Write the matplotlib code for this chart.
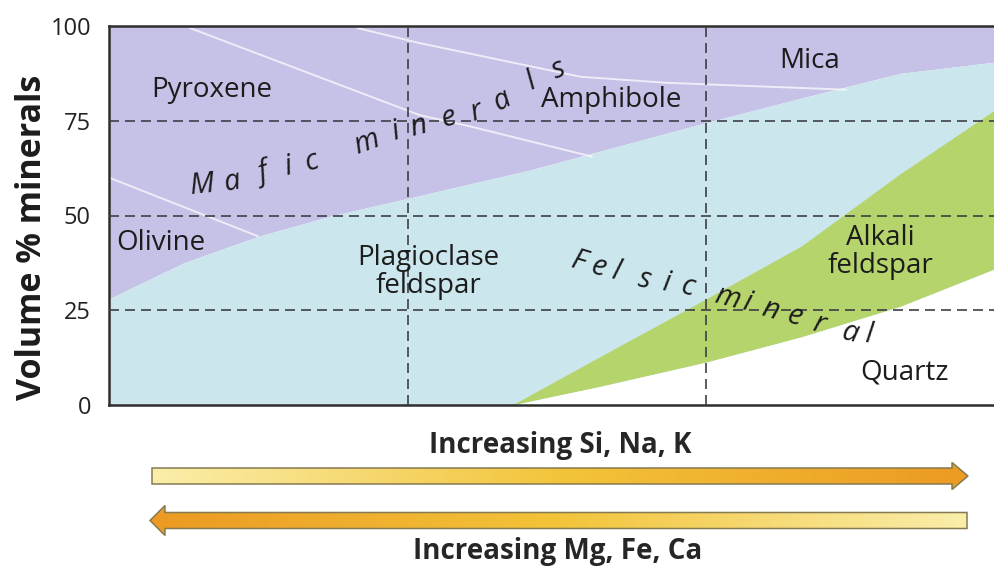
import numpy as np
import matplotlib
matplotlib.use("Agg")
import matplotlib.pyplot as plt
from matplotlib.patches import Polygon

# ---- data (x: position along the silica axis, 0..~3; y: volume %) ----
felsic_x = [0.0, 0.25, 0.5, 0.75, 1.0, 1.41, 2.0, 2.32, 2.65, 2.97]
felsic_top = [28, 37.5, 44.5, 50, 54.5, 62, 74.5, 81, 87.5, 90.5]   # mafic / felsic boundary

alkali_x = [1.35, 1.65, 2.0, 2.32, 2.65, 2.97]
alkali_top = [0, 13, 28, 42, 61, 78]                           # plagioclase / alkali feldspar
quartz_top = [0, 5, 11.3, 18, 26, 36]                          # alkali feldspar / quartz

olivine_x = [0.0, 0.50]
olivine_y = [60, 44.5]
pyroxene_x = [0.27, 1.04, 1.21, 1.62]
pyroxene_y = [99.5, 76.5, 73.5, 65.5]
mica_x = [0.83, 1.04, 1.58, 1.87, 2.20, 2.47]
mica_y = [99.5, 95.5, 86.6, 85, 84, 83.2]

y_ticks = [0, 25, 50, 75, 100]
y_label = "Volume % minerals"

mineral_labels = [
    ("Pyroxene", 212, 90),
    ("Amphibole", 611, 100),
    ("Mica", 810, 61),
    ("Olivine", 161, 243),
    ("Plagioclase\nfeldspar", 428, 272),
    ("Alkali\nfeldspar", 880, 252),
    ("Quartz", 905, 372),
]

mafic_text = "Maficminerals"
mafic_pos = [(202, 185), (232, 182), (263, 173), (288, 167), (312, 162),
             (367, 143), (395, 132), (419, 127), (449, 118), (476, 112),
             (502, 100), (531, 82), (559, 70)]
felsic_text = "Felsicmineral"
felsic_pos = [(579, 262), (599, 268), (616, 272), (645, 280), (666, 283),
              (688, 287), (727, 298), (747, 303), (770, 310), (795, 317),
              (819, 324), (850, 333), (869, 335)]

arrow_top_label = "Increasing Si, Na, K"
arrow_bottom_label = "Increasing Mg, Fe, Ca"

# ---- colours ----
C_MAFIC = "#c6c1e6"
C_FELSIC = "#cce6ee"
C_ALKALI = "#b6d46c"
C_QUARTZ = "#ffffff"
C_TEXT = "#1c1c1c"
C_GRID = "#3e3e48"

W, H = 995, 578
fig = plt.figure(figsize=(W / 100, H / 100), dpi=100)
fig.patch.set_facecolor("white")

plt.rcParams["font.family"] = ["Open Sans", "DejaVu Sans"]

# main plotting area in pixel terms
left_px, right_px, top_px, bottom_px = 109, 995, 26, 405
ax = fig.add_axes([left_px / W, 1 - bottom_px / H,
                   (right_px - left_px) / W, (bottom_px - top_px) / H])
ax.set_xlim(0, 2.968)
ax.set_ylim(0, 100)
ax.set_facecolor("white")

ax.fill_between(felsic_x, felsic_top, 100, color=C_MAFIC, lw=0, zorder=1)
ax.fill_between(felsic_x, 0, felsic_top, color=C_FELSIC, lw=0, zorder=1)
ax.fill_between(alkali_x, quartz_top, alkali_top, color=C_ALKALI, lw=0, zorder=1)
ax.fill_between(alkali_x, 0, quartz_top, color=C_QUARTZ, lw=0, zorder=1)

for xs, ys in [(olivine_x, olivine_y), (pyroxene_x, pyroxene_y), (mica_x, mica_y)]:
    ax.plot(xs, ys, color="white", lw=1.4, alpha=0.7, zorder=2,
            solid_capstyle="butt")

dash = (0, (6, 3.6))
for yv in [25, 50, 75]:
    ax.axhline(yv, color=C_GRID, lw=1.2, linestyle=dash, zorder=3)
for xv in [1, 2]:
    ax.axvline(xv, color=C_GRID, lw=1.2, linestyle=dash, zorder=3)

for side in ["left", "bottom", "top"]:
    ax.spines[side].set_color("#2e2e2e")
    ax.spines[side].set_linewidth(1.8)
ax.spines["right"].set_visible(False)

ax.set_xticks([])
ax.set_yticks(y_ticks)
ax.set_yticklabels([str(v) for v in y_ticks], fontsize=17, color="#222222")
ax.tick_params(axis="y", length=0, pad=13)
for lbl in ax.get_yticklabels():
    lbl.set_y(lbl.get_position()[1])

# overlay in figure pixel coordinates for labels and arrows
ov = fig.add_axes([0, 0, 1, 1], facecolor="none")
ov.set_xlim(0, W)
ov.set_ylim(H, 0)
ov.axis("off")

ov.text(32, 237, y_label, rotation=90, ha="center", va="center",
        fontsize=24.5, fontweight="bold", color=C_TEXT)

for txt, x, y in mineral_labels:
    ov.text(x, y, txt, ha="center", va="center", fontsize=20,
            color=C_TEXT, linespacing=1.0)


def letters_along(text, pos, size):
    pts = np.array(pos, dtype=float)
    n = len(pts)
    for i, ch in enumerate(text):
        a = pts[max(i - 1, 0)]
        b = pts[min(i + 1, n - 1)]
        ang = -np.degrees(np.arctan2(b[1] - a[1], b[0] - a[0]))
        ov.text(pts[i, 0], pts[i, 1], ch, ha="center", va="center",
                rotation=ang, rotation_mode="anchor", fontsize=size,
                style="italic", color=C_TEXT)


letters_along(mafic_text, mafic_pos, 21)
letters_along(felsic_text, felsic_pos, 21)


def gradient_arrow(x0, x1, yc, bar_h, head_h, head_len, pointing, c_from, c_to):
    hb, hh = bar_h / 2, head_h / 2
    if pointing == "right":
        base = x1 - head_len
        verts = [(x0, yc - hb), (base, yc - hb), (base, yc - hh), (x1, yc),
                 (base, yc + hh), (base, yc + hb), (x0, yc + hb)]
    else:
        base = x0 + head_len
        verts = [(x1, yc - hb), (base, yc - hb), (base, yc - hh), (x0, yc),
                 (base, yc + hh), (base, yc + hb), (x1, yc + hb)]
    poly = Polygon(verts, closed=True, facecolor="none",
                   edgecolor="#857a52", lw=1.1, zorder=6)
    ov.add_patch(poly)
    c0 = np.array(matplotlib.colors.to_rgb(c_from))
    c1 = np.array(matplotlib.colors.to_rgb(c_to))
    mid = np.array(matplotlib.colors.to_rgb("#f3c43a"))
    t = np.linspace(0, 1, 256)[:, None]
    grad = np.where(t < 0.5, c0 + (mid - c0) * (t / 0.5),
                    mid + (c1 - mid) * ((t - 0.5) / 0.5))
    img = ov.imshow(grad[None, :, :], extent=[x0, x1, yc + hh, yc - hh],
                    aspect="auto", zorder=5, interpolation="bilinear")
    clip = Polygon(verts, closed=True, transform=ov.transData)
    img.set_clip_path(clip)


gradient_arrow(152, 968, 476, 16, 27, 16, "right", "#faeeaa", "#ec9a22")
gradient_arrow(150, 967, 520.5, 16, 30, 15, "left", "#ec9a22", "#faeeaa")
ov.set_xlim(0, W)
ov.set_ylim(H, 0)

ov.text(560, 446, arrow_top_label, ha="center", va="center", fontsize=20,
        fontweight="bold", color="#262626")
ov.text(558, 552, arrow_bottom_label, ha="center", va="center", fontsize=20,
        fontweight="bold", color="#262626")

fig.savefig("out.png", dpi=100)
